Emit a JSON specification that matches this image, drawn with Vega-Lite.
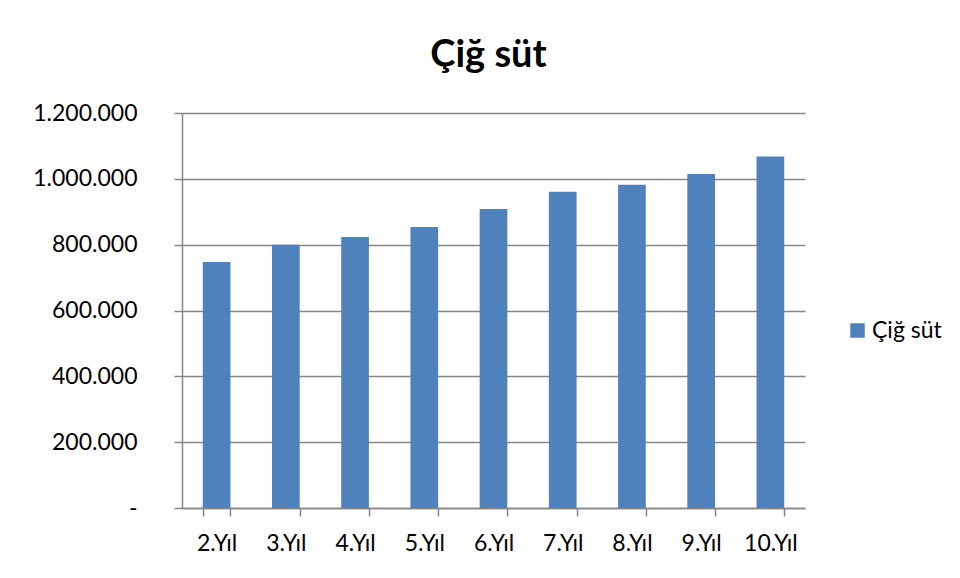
{
  "$schema": "https://vega.github.io/schema/vega-lite/v6.json",
  "width": 623,
  "height": 395,
  "autosize": {"type": "none"},
  "padding": {"left": 182, "top": 113, "right": 155, "bottom": 70},
  "background": "white",
  "title": {
    "text": "Çiğ süt",
    "fontSize": 38,
    "fontWeight": "bold",
    "font": "Lato",
    "color": "#000000",
    "anchor": "middle",
    "frame": "group",
    "dx": -5,
    "offset": 27
  },
  "data": {
    "values": [
      {"yil": "2.Yıl", "deger": 747000, "seri": "Çiğ süt"},
      {"yil": "3.Yıl", "deger": 800000, "seri": "Çiğ süt"},
      {"yil": "4.Yıl", "deger": 823000, "seri": "Çiğ süt"},
      {"yil": "5.Yıl", "deger": 854000, "seri": "Çiğ süt"},
      {"yil": "6.Yıl", "deger": 908000, "seri": "Çiğ süt"},
      {"yil": "7.Yıl", "deger": 961000, "seri": "Çiğ süt"},
      {"yil": "8.Yıl", "deger": 982000, "seri": "Çiğ süt"},
      {"yil": "9.Yıl", "deger": 1015000, "seri": "Çiğ süt"},
      {"yil": "10.Yıl", "deger": 1068000, "seri": "Çiğ süt"}
    ]
  },
  "mark": {"type": "bar"},
  "encoding": {
    "x": {
      "field": "yil",
      "type": "nominal",
      "sort": null,
      "scale": {"paddingInner": 0.6, "paddingOuter": 0.3},
      "axis": {
        "title": null,
        "labelAngle": 0,
        "tickBand": "extent",
        "tickSize": 8,
        "tickColor": "#868686",
        "tickWidth": 1.5,
        "domainColor": "#868686",
        "domainWidth": 1.5,
        "labelFont": "Lato",
        "labelFontSize": 23,
        "labelColor": "#000000",
        "labelPadding": 16
      }
    },
    "y": {
      "field": "deger",
      "type": "quantitative",
      "scale": {"domain": [0, 1200000], "nice": false},
      "axis": {
        "title": null,
        "values": [0, 200000, 400000, 600000, 800000, 1000000, 1200000],
        "format": ",d",
        "labelExpr": "datum.value == 0 ? '-\u2003' : datum.label",
        "tickSize": 8,
        "tickColor": "#868686",
        "tickWidth": 1.5,
        "domainColor": "#868686",
        "domainWidth": 1.5,
        "gridColor": "#868686",
        "gridWidth": 1.5,
        "labelFont": "Lato",
        "labelFontSize": 23,
        "labelColor": "#000000",
        "labelPadding": 37
      }
    },
    "color": {
      "field": "seri",
      "type": "nominal",
      "scale": {"range": ["#4F81BD"]},
      "legend": {
        "title": null,
        "orient": "none",
        "legendX": 664,
        "legendY": 206,
        "symbolType": "square",
        "symbolSize": 210,
        "symbolStrokeWidth": 0,
        "labelFont": "Lato",
        "labelFontSize": 23,
        "labelColor": "#000000",
        "labelOffset": 3,
        "padding": 0
      }
    }
  },
  "config": {
    "locale": {
      "number": {
        "decimal": ",",
        "thousands": ".",
        "grouping": [3],
        "currency": ["", ""]
      }
    },
    "view": {"stroke": null}
  }
}
